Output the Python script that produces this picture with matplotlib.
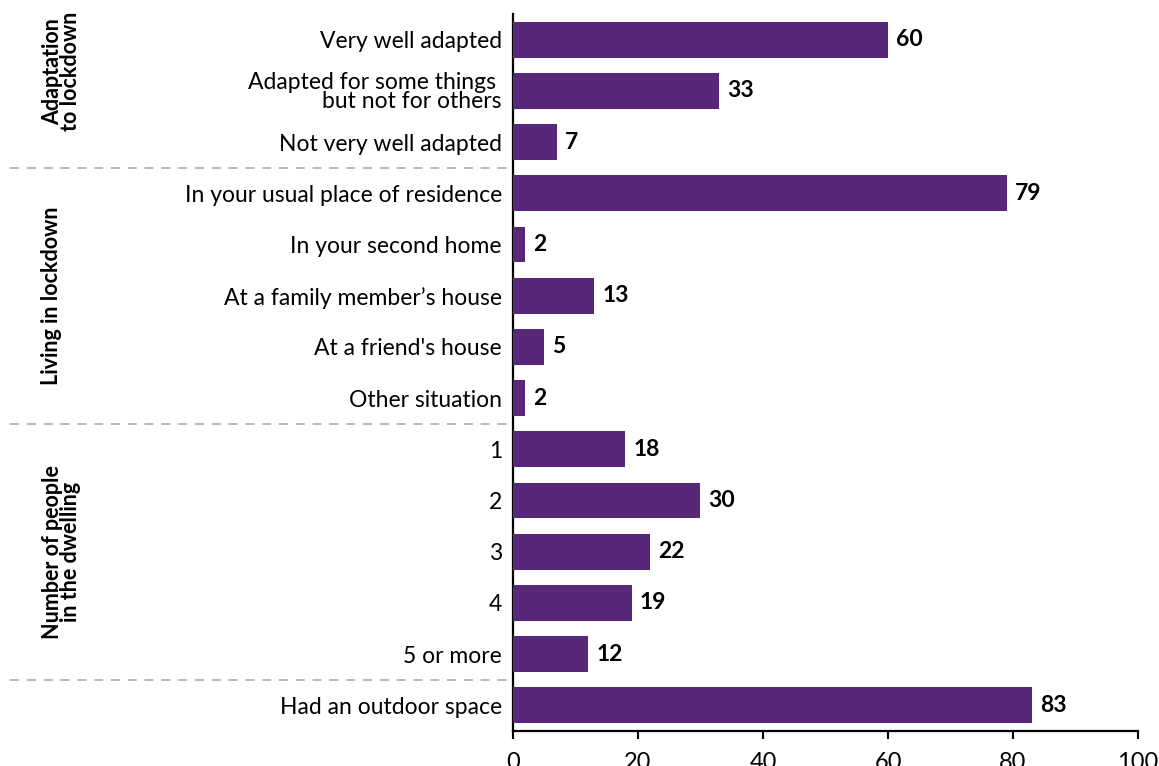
import matplotlib
matplotlib.use("Agg")
import matplotlib.pyplot as plt

plt.rcParams["font.family"] = ["Lato", "DejaVu Sans"]

# -------------------------
# Data
# -------------------------
categories = [
    "Very well adapted",
    "Adapted for some things \nbut not for others",
    "Not very well adapted",
    "In your usual place of residence",
    "In your second home",
    "At a family member\u2019s house",
    "At a friend's house",
    "Other situation",
    "1",
    "2",
    "3",
    "4",
    "5 or more",
    "Had an outdoor space",
]
values = [60, 33, 7, 79, 2, 13, 5, 2, 18, 30, 22, 19, 12, 83]

group_names = ["Adaptation\nto lockdown", "Living in lockdown",
               "Number of people\nin the dwelling"]
group_sizes = [3, 5, 5]   # last row (outdoor space) has no group label

bar_color = "#57277A"

fig = plt.figure(figsize=(11.59, 7.66), dpi=100)
ax = fig.add_axes([0.4426, 0.0457, 0.5393, 0.936])

y = list(range(len(categories)))
ax.barh(y, values, height=0.7, color=bar_color, zorder=3)
for yi, v in zip(y, values):
    ax.text(v + 1.3, yi, str(v), va="center", ha="left",
            fontsize=16.5, fontweight="bold", color="black")

ax.set_ylim(len(categories) - 0.5, -0.5)
ax.set_xlim(0, 100)
ax.set_yticks(y)
ax.set_yticklabels(categories, fontsize=16.5, linespacing=0.9)
ax.tick_params(axis="y", length=0, pad=8)
ax.set_xticks([0, 20, 40, 60, 80, 100])
ax.tick_params(axis="x", length=6, width=1.5, labelsize=17, pad=9)

for s in ["top", "right"]:
    ax.spines[s].set_visible(False)
for s in ["left", "bottom"]:
    ax.spines[s].set_linewidth(1.6)
    ax.spines[s].set_color("black")

# group separators and vertical group labels
label_x = [-0.722, -0.738, -0.722]
start = 0
for name, size, lx in zip(group_names, group_sizes, label_x):
    end = start + size
    sep_y = end - 0.5
    ax.plot([-0.805, 0], [sep_y, sep_y], transform=ax.get_yaxis_transform(),
            color="#A6A6A6", linewidth=1.1, linestyle=(0, (6, 5)),
            clip_on=False, zorder=1)
    mid = (start + end - 1) / 2
    if start == 0:
        mid = 0.62
    ax.text(lx, mid, name, transform=ax.get_yaxis_transform(),
            rotation=90, ha="center", va="center", fontsize=15.5,
            fontweight="bold", linespacing=0.85)
    start = end

fig.savefig("out.png", dpi=100)
